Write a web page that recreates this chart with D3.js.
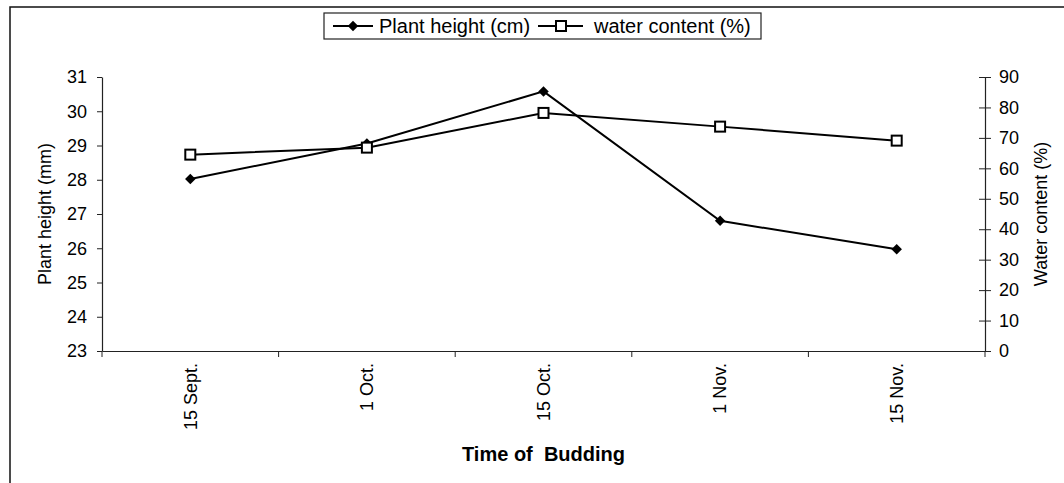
<!DOCTYPE html>
<html>
<head>
<meta charset="utf-8">
<script src="https://cdn.jsdelivr.net/npm/d3@7"></script>
<style>
  body { margin: 0; background: #fff; }
  svg { display: block; font-family: "Liberation Sans", Arial, sans-serif; }
</style>
</head>
<body>
<div id="container"></div>
<script>
const categories = ["15 Sept.", "1 Oct.", "15 Oct.", "1 Nov.", "15 Nov."];
const plantHeight = [28.02, 29.06, 30.58, 26.8, 25.97];
const waterContent = [64.5, 66.8, 78.2, 73.7, 69.1];
const leftTicks = [23, 24, 25, 26, 27, 28, 29, 30, 31];
const rightTicks = [0, 10, 20, 30, 40, 50, 60, 70, 80, 90];

const W = 1064, H = 483;
const plot = { left: 102, right: 985, top: 77, bottom: 351 };

const svg = d3.select("#container").append("svg")
  .attr("width", W)
  .attr("height", H);

// outer chart border (cut off at right and bottom)
svg.append("rect")
  .attr("x", 10).attr("y", 7)
  .attr("width", W + 20).attr("height", H + 20)
  .attr("fill", "none")
  .attr("stroke", "#111")
  .attr("stroke-width", 1.5);

const x = d3.scaleBand()
  .domain(categories)
  .range([plot.left, plot.right])
  .padding(0);

const yL = d3.scaleLinear().domain([23, 31]).range([plot.bottom, plot.top]);
const yR = d3.scaleLinear().domain([0, 90]).range([plot.bottom, plot.top]);

// left axis
const gL = svg.append("g")
  .attr("transform", `translate(${plot.left},0)`)
  .call(d3.axisLeft(yL).tickValues(leftTicks).tickSize(5).tickSizeOuter(0).tickPadding(10));

// right axis
const gR = svg.append("g")
  .attr("transform", `translate(${plot.right},0)`)
  .call(d3.axisRight(yR).tickValues(rightTicks).tickSize(6).tickSizeOuter(0).tickPadding(8));
gR.selectAll(".tick line").attr("x1", -6);

// bottom axis
const gB = svg.append("g")
  .attr("transform", `translate(0,${plot.bottom})`)
  .call(d3.axisBottom(x).tickSize(0).tickSizeOuter(0));
gB.selectAll(".tick text")
  .attr("transform", "rotate(-90)")
  .attr("text-anchor", "end")
  .attr("x", -12)
  .attr("y", 0)
  .attr("dy", "0.35em");

// category boundary ticks
const bounds = categories.map(c => x(c)).concat([x(categories[categories.length - 1]) + x.bandwidth()]);
gB.selectAll(".bound")
  .data(bounds)
  .enter().append("line")
  .attr("x1", d => d).attr("x2", d => d)
  .attr("y1", 0).attr("y2", 6)
  .attr("stroke", "#222");

[gL, gR, gB].forEach(g => {
  g.selectAll("text").attr("font-size", 18).attr("fill", "#000")
    .style("font-family", "'Liberation Sans', Arial, sans-serif");
  g.selectAll("line").attr("stroke", "#222");
  g.select(".domain").attr("stroke", "#222").attr("stroke-width", 1.2);
});

// axis titles
svg.append("text")
  .attr("transform", `translate(51,${(plot.top + plot.bottom) / 2}) rotate(-90)`)
  .attr("text-anchor", "middle")
  .attr("font-size", 18)
  .text("Plant height (mm)");

svg.append("text")
  .attr("transform", `translate(1047,${(plot.top + plot.bottom) / 2}) rotate(-90)`)
  .attr("text-anchor", "middle")
  .attr("font-size", 18)
  .text("Water content (%)");

svg.append("text")
  .attr("x", (plot.left + plot.right) / 2)
  .attr("y", 461)
  .attr("text-anchor", "middle")
  .attr("font-size", 20)
  .attr("font-weight", "bold")
  .style("white-space", "pre")
  .text("Time of  Budding");

const cx = c => x(c) + x.bandwidth() / 2;

// lines
const lineL = d3.line().x((d, i) => cx(categories[i])).y(d => yL(d));
const lineR = d3.line().x((d, i) => cx(categories[i])).y(d => yR(d));

svg.append("path")
  .datum(plantHeight)
  .attr("d", lineL)
  .attr("fill", "none")
  .attr("stroke", "#000")
  .attr("stroke-width", 2);

svg.append("path")
  .datum(waterContent)
  .attr("d", lineR)
  .attr("fill", "none")
  .attr("stroke", "#000")
  .attr("stroke-width", 2);

const diamond = d3.symbol().type(d3.symbolDiamond2).size(70);

svg.selectAll(".ph")
  .data(plantHeight)
  .enter().append("path")
  .attr("d", diamond)
  .attr("transform", (d, i) => `translate(${cx(categories[i])},${yL(d)})`)
  .attr("fill", "#000");

svg.selectAll(".wc")
  .data(waterContent)
  .enter().append("rect")
  .attr("x", (d, i) => cx(categories[i]) - 5)
  .attr("y", d => yR(d) - 5)
  .attr("width", 10).attr("height", 10)
  .attr("fill", "#fff")
  .attr("stroke", "#000")
  .attr("stroke-width", 2);

// legend
const legend = svg.append("g");
legend.append("rect")
  .attr("x", 324).attr("y", 13)
  .attr("width", 437).attr("height", 26)
  .attr("fill", "#fff")
  .attr("stroke", "#222")
  .attr("stroke-width", 1.2);

legend.append("line")
  .attr("x1", 333).attr("x2", 373).attr("y1", 26).attr("y2", 26)
  .attr("stroke", "#000").attr("stroke-width", 2);
legend.append("path")
  .attr("d", diamond)
  .attr("transform", "translate(353,26)")
  .attr("fill", "#000");
legend.append("text")
  .attr("x", 379).attr("y", 26).attr("dy", "0.35em")
  .attr("font-size", 20)
  .text("Plant height (cm)");

legend.append("line")
  .attr("x1", 538).attr("x2", 583).attr("y1", 26).attr("y2", 26)
  .attr("stroke", "#000").attr("stroke-width", 2);
legend.append("rect")
  .attr("x", 556).attr("y", 21)
  .attr("width", 10).attr("height", 10)
  .attr("fill", "#fff")
  .attr("stroke", "#000")
  .attr("stroke-width", 2);
legend.append("text")
  .attr("x", 594).attr("y", 26).attr("dy", "0.35em")
  .attr("font-size", 20)
  .text("water content (%)");
</script>
</body>
</html>
